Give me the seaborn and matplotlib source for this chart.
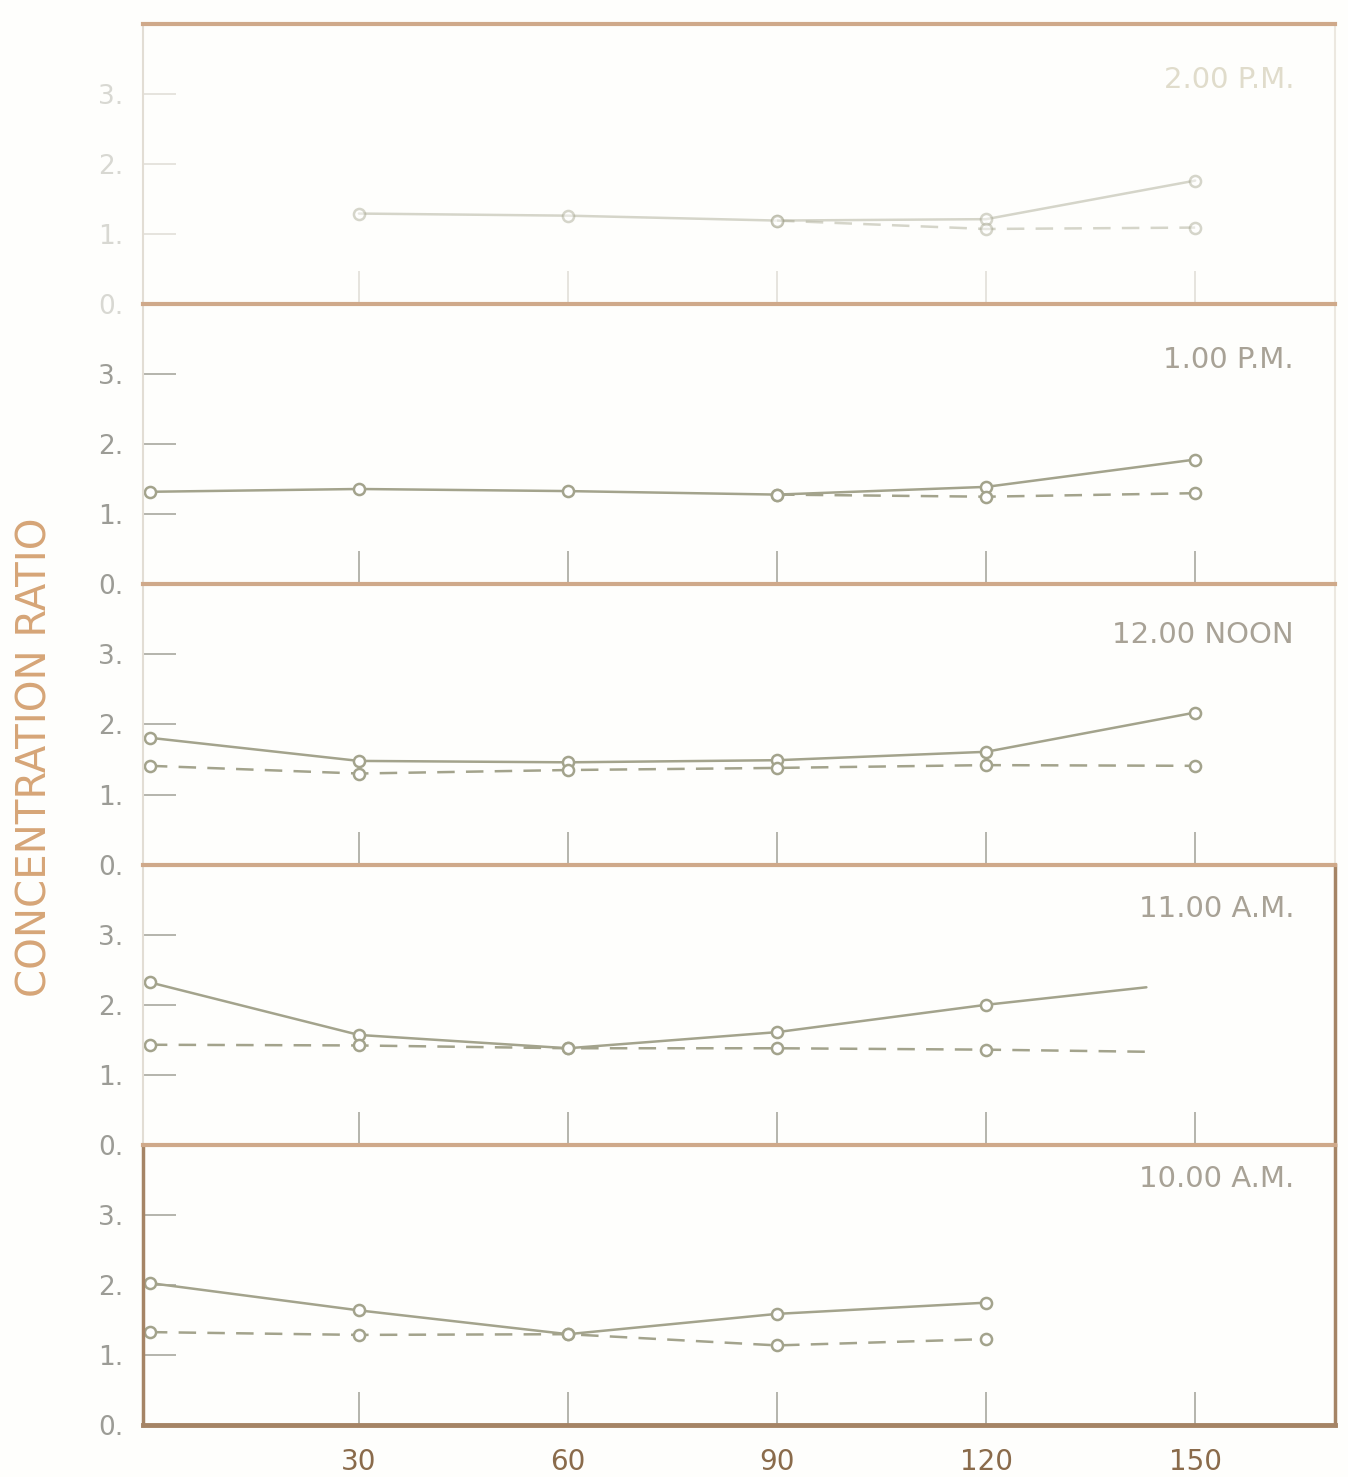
import pandas as pd
import seaborn as sns
import matplotlib.pyplot as plt

# dados (minutos x razao de concentracao)
panel_labels = ["2.00 P.M.", "1.00 P.M.", "12.00 NOON", "11.00 A.M.", "10.00 A.M."]
xtick_vals = [30, 60, 90, 120, 150]
ytick_vals = [0, 1, 2, 3]
ytick_labels = ["0.", "1.", "2.", "3."]

# 2.00 P.M.
x_2pm = [30, 60, 90, 120, 150]
solid_2pm = [1.29, 1.26, 1.19, 1.21, 1.76]
xd_2pm = [90, 120, 150]
dash_2pm = [1.19, 1.07, 1.09]

# 1.00 P.M.
x_1pm = [0, 30, 60, 90, 120, 150]
solid_1pm = [1.32, 1.36, 1.33, 1.28, 1.39, 1.78]
xd_1pm = [90, 120, 150]
dash_1pm = [1.28, 1.25, 1.30]

# 12.00 NOON
x_noon = [0, 30, 60, 90, 120, 150]
solid_noon = [1.81, 1.48, 1.46, 1.49, 1.61, 2.17]
dash_noon = [1.41, 1.30, 1.35, 1.38, 1.42, 1.41]

# 11.00 A.M. (ultimo ponto sem marcador)
x_11am = [0, 30, 60, 90, 120, 143]
solid_11am = [2.32, 1.57, 1.38, 1.61, 2.00, 2.25]
dash_11am = [1.43, 1.42, 1.38, 1.38, 1.36, 1.33]

# 10.00 A.M.
x_10am = [0, 30, 60, 90, 120]
solid_10am = [2.03, 1.64, 1.30, 1.59, 1.75]
dash_10am = [1.33, 1.29, 1.30, 1.14, 1.23]

series = [
    (x_2pm, solid_2pm, xd_2pm, dash_2pm),
    (x_1pm, solid_1pm, xd_1pm, dash_1pm),
    (x_noon, solid_noon, x_noon, dash_noon),
    (x_11am, solid_11am, x_11am, dash_11am),
    (x_10am, solid_10am, x_10am, dash_10am),
]

sns.set_theme(style="white")
plt.rcParams["font.family"] = ["DejaVu Sans"]

LINE = "#a3a38c"
FRAME = "#cfa98a"
FRAME_DARK = "#a58465"
TICK = "#b4b4ac"

fig, axes = plt.subplots(5, 1, figsize=(13.48, 14.77), dpi=100, sharex=True,
                         gridspec_kw={"hspace": 0})
fig.subplots_adjust(left=0.106, right=0.99, top=0.984, bottom=0.035)
fig.patch.set_facecolor("#fefefc")

# altura do rotulo de cada painel (fracao do eixo)
label_y = [0.80, 0.80, 0.82, 0.84, 0.88]

for i, (ax, label, (xs, ys, xd, yd)) in enumerate(zip(axes, panel_labels, series)):
    faint = i == 0
    ax.set_facecolor("#fefefc")
    alpha = 0.45 if faint else 1.0

    df_s = pd.DataFrame({"minutos": xs, "razao": ys})
    df_d = pd.DataFrame({"minutos": xd, "razao": yd})
    mk = list(range(5)) if i == 3 else None

    sns.lineplot(data=df_s, x="minutos", y="razao", ax=ax, color=LINE, lw=1.8,
                 marker="o", markersize=8, markerfacecolor="white",
                 markeredgecolor=LINE, markeredgewidth=1.8, markevery=mk,
                 estimator=None, sort=False, alpha=alpha)
    sns.lineplot(data=df_d, x="minutos", y="razao", ax=ax, color=LINE, lw=1.8,
                 marker="o", markersize=8, markerfacecolor="white",
                 markeredgecolor=LINE, markeredgewidth=1.8, markevery=mk,
                 linestyle=(0, (7, 4.5)), estimator=None, sort=False, alpha=alpha)

    ax.set_xlim(-1, 170)
    ax.set_ylim(0, 4)
    ax.set_xticks(xtick_vals)
    ax.set_yticks(ytick_vals)
    ax.set_yticklabels(ytick_labels)
    ax.set_xlabel("")
    ax.set_ylabel("")
    ax.tick_params(axis="both", direction="in", length=24, width=1.4,
                   color="#e6e4de" if faint else TICK, pad=14,
                   bottom=True, left=True)
    ax.tick_params(axis="y", labelsize=19,
                   labelcolor="#d8d8d2" if faint else "#9c9c96")
    ax.tick_params(axis="x", labelsize=20, labelcolor="#8a6b4b", pad=16)
    if i < 4:
        ax.tick_params(axis="x", labelbottom=False)

    ax.spines["top"].set_color(FRAME)
    ax.spines["top"].set_linewidth(3)
    ax.spines["left"].set_color("#e2ddd4")
    ax.spines["left"].set_linewidth(1.5)
    ax.spines["right"].set_color("#ece8e0")
    ax.spines["right"].set_linewidth(1.5)
    ax.spines["bottom"].set_visible(i == 4)
    if i >= 3:
        ax.spines["right"].set_color(FRAME_DARK)
        ax.spines["right"].set_linewidth(2.5)
    if i == 4:
        ax.spines["left"].set_color(FRAME_DARK)
        ax.spines["left"].set_linewidth(2.5)
        ax.spines["bottom"].set_color(FRAME_DARK)
        ax.spines["bottom"].set_linewidth(3.5)

    ax.text(0.966, label_y[i], label, transform=ax.transAxes, ha="right",
            va="center", fontsize=21,
            color="#e0dccb" if faint else "#a8a296")

fig.text(0.026, 0.487, "CONCENTRATION RATIO", rotation=90, ha="center",
         va="center", fontsize=29, color="#d6a577")

plt.savefig("out.png", dpi=100, facecolor=fig.get_facecolor())
